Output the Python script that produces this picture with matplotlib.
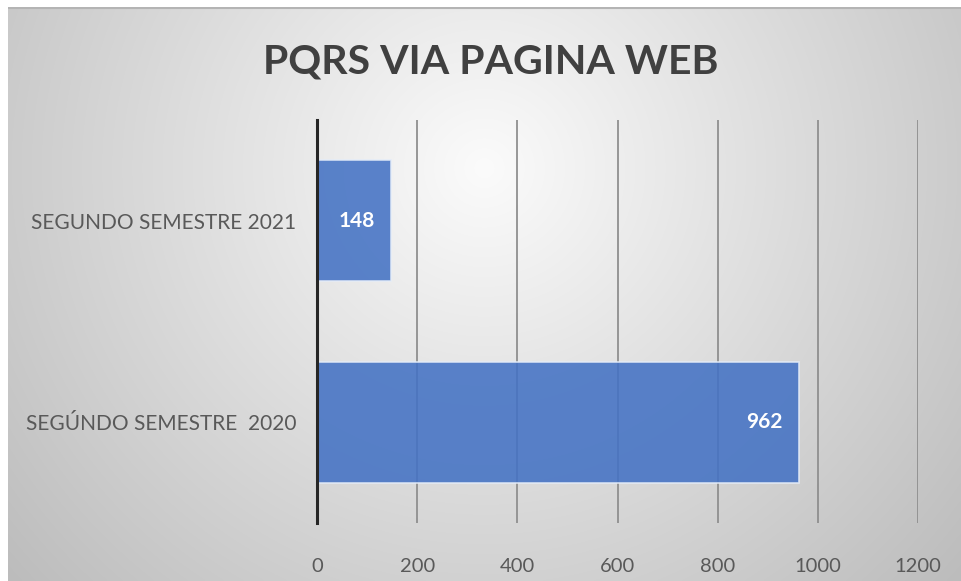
import matplotlib
matplotlib.use("Agg")
import matplotlib.pyplot as plt
import numpy as np

# data
categories = ["SEGÚNDO SEMESTRE  2020", "SEGUNDO SEMESTRE 2021"]
values = [962, 148]
x_ticks = [0, 200, 400, 600, 800, 1000, 1200]
title = "PQRS VIA PAGINA WEB"

plt.rcParams['font.family'] = ['Lato', 'DejaVu Sans']

W, H = 961, 581
fig = plt.figure(figsize=(W / 100, H / 100), dpi=100, facecolor="white")

# radial gray gradient behind the chart (excel style fill)
bg = fig.add_axes([8 / W, 0, (W - 8) / W, (H - 7) / H], zorder=0)
ny, nx = 300, 500
yy, xx = np.mgrid[0:1:ny * 1j, 0:1:nx * 1j]
r = np.sqrt(((xx - 0.5) / 0.55) ** 2 + ((yy - 0.28) / 0.9) ** 2)
shade = np.clip(251 - 52 * r, 180, 252) / 255.0
bg.imshow(np.dstack([shade, shade, shade]), aspect="auto", extent=[0, 1, 1, 0],
          interpolation="bilinear")
bg.axhline(0.002, color="#b4b4b4", lw=1.5)
bg.set_axis_off()

ax = fig.add_axes([317 / W, 1 - 523 / H, (918 - 317) / W, (523 - 120) / H], zorder=1)
ax.set_facecolor("none")

ypos = np.arange(len(categories))
bars = ax.barh(ypos, values, height=0.6, color="#4472C4", alpha=0.88,
               edgecolor="#e4ecf8", linewidth=1.2, zorder=2)

ax.set_xlim(0, 1200)
ax.set_ylim(-0.5, 1.5)
ax.set_xticks(x_ticks)
ax.set_xticklabels([str(t) for t in x_ticks])
ax.set_yticks(ypos)
ax.set_yticklabels(categories)

ax.grid(axis="x", color="#8f8f8f", lw=1.3, zorder=1)
ax.set_axisbelow(True)
for s in ["top", "right", "bottom"]:
    ax.spines[s].set_visible(False)
ax.spines["left"].set_color("#262626")
ax.spines["left"].set_linewidth(2.2)
ax.spines["left"].set_zorder(3)

ax.tick_params(axis="both", length=0, labelcolor="#595959")
ax.tick_params(axis="x", pad=25, labelsize=14.5)
ax.tick_params(axis="y", pad=15, labelsize=15)

for b, v in zip(bars, values):
    ax.annotate(str(v), (v, b.get_y() + b.get_height() / 2), xytext=(-12, 0),
                textcoords="offset points", ha="right", va="center",
                color="white", fontsize=15, fontweight="bold", zorder=4)

fig.text(0.511, 1 - 62 / H, title, ha="center", va="center", fontsize=29.5,
         fontweight="bold", color="#404040")

fig.savefig("out.png", dpi=100, facecolor="white")
